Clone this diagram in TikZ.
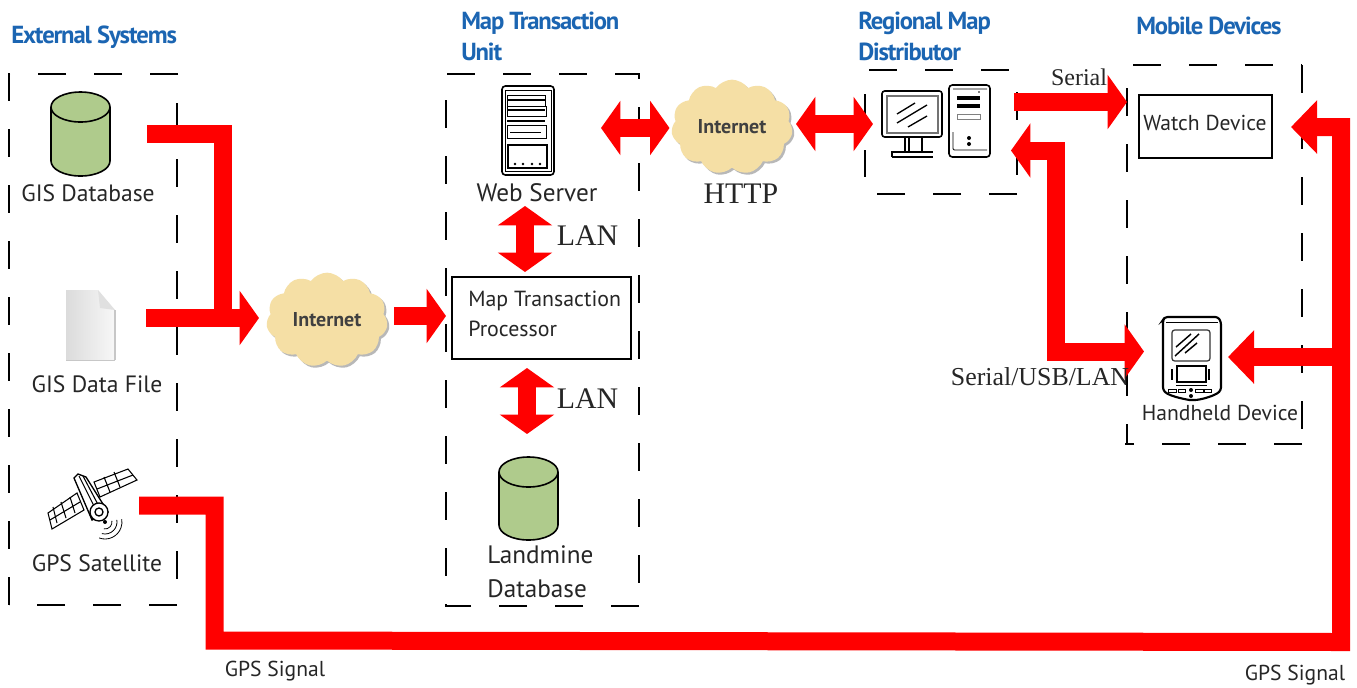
\documentclass[tikz,border=0pt]{standalone}
\usepackage{fontspec}
\setmainfont{PT Sans}
\newfontfamily\tnr{Liberation Serif}
\newfontfamily\headfont[LetterSpace=-4.5,BoldFont={PT Sans Bold}]{PT Sans}
\usetikzlibrary{arrows.meta,shapes.symbols,shadows}
\definecolor{headblue}{HTML}{1B65B2}
\definecolor{dbgreen}{HTML}{AFCB8C}
\definecolor{cloudtan}{HTML}{F5DFA5}
\tikzset{
  dbox/.style={draw=black,line width=1.5pt,dash pattern=on 21pt off 21pt},
  redline/.style={draw=red,line width=13.5pt},
  hd/.tip={Triangle[length=14.5pt,width=40pt]},
  hdl/.tip={Triangle[length=19.5pt,width=39pt]},
  lbl/.style={inner sep=0pt,text=black!85,font=\fontsize{17.7}{25.5}\selectfont,align=center},
  lblb/.style={inner sep=0pt,text=black!85,font=\fontsize{18.9}{25.5}\selectfont,align=left},
  small/.style={inner sep=0pt,text=black!85,font=\fontsize{16.2}{18}\selectfont},
  serif/.style={inner sep=0pt,text=black!85,font=\tnr\fontsize{22.4}{24}\selectfont},
  serifs/.style={inner sep=0pt,text=black!85,font=\tnr\fontsize{18}{20}\selectfont},
  serifm/.style={inner sep=0pt,text=black!85,font=\tnr\fontsize{19.4}{20}\selectfont},
  heading/.style={inner sep=0pt,text=headblue,align=left,font=\headfont\bfseries\fontsize{18.5}{23}\selectfont},
  cloudn/.style={shape=cloud,cloud puffs=11,cloud puff arc=110,aspect=1.3,fill=cloudtan,
    minimum width=91pt,minimum height=71pt,inner sep=0pt,
    text=black!75,font=\bfseries\fontsize{15}{17}\selectfont,
    drop shadow={shadow xshift=1.5pt,shadow yshift=-1.5pt,fill=black!55}},
  procbox/.style={draw=black,line width=1.7pt,inner sep=0pt},
  icon/.style={draw=black,line width=1.2pt},
  thin1/.style={draw=black,line width=.7pt},
}
\newcommand{\cylinder}[3]{% cx, top, bottom
  \draw[icon,fill=dbgreen] (#1-29.5,#2+15) -- (#1-29.5,#3-15)
    arc[x radius=29.5,y radius=15,start angle=180,end angle=0]
    -- (#1+29.5,#2+15) arc[x radius=29.5,y radius=15,start angle=0,end angle=-180] -- cycle;
  \draw[icon] (#1-29.5,#2+15) arc[x radius=29.5,y radius=15,start angle=180,end angle=0];
}
\begin{document}
\begin{tikzpicture}[x=0.75pt,y=-0.75pt]
\useasboundingbox (0,0) rectangle (1357,687);
\fill[white] (0,0) rectangle (1357,687);

% headings
\node[heading,anchor=west] (hExt) at (11,37) {External Systems};
\node[heading,anchor=north west] (hMtu) at (461,12) {Map Transaction\\Unit};
\node[heading,anchor=north west] (hRmd) at (858,12) {Regional Map\\Distributor};
\node[heading,anchor=west] (hMob) at (1136,26) {Mobile Devices};

% dashed groups
\draw[dbox] (178,74)--(9,74) (9,73)--(9,605) (177,103)--(177,605) (177,605)--(9,605);
\draw[dbox] (447,74)--(640,74) (639,74)--(639,79) (639,107)--(639,607) (446,100)--(446,607) (639,606)--(446,606);
\draw[dbox] (869,70)--(1017,70) (1017,92)--(1017,175) (865,94)--(865,177) (1017,194)--(865,194);
\draw[dbox] (1133,65)--(1302,65) (1302,65)--(1302,429) (1127,88)--(1127,443) (1302,444)--(1125,444);

% database icons
\cylinder{80.5}{92}{176}
\cylinder{528.5}{457}{540}
\node[lbl] (gisdb) at (88,193) {GIS Database};
\node[lblb,anchor=west] (landdb) at (487,572) {Landmine\\Database};

% file icon
\shade[left color=black!14,right color=black!3] (66,290) -- (98,290) -- (115,310) -- (115,360) -- (66,360) -- cycle;
\fill[black!12] (98,290) -- (115,310) -- (100,308) -- cycle;
\draw[black!22,line width=.8pt] (66,360.5) -- (115,360.5) (115,310) -- (115,360);
\node[lbl] (gisfile) at (97,384) {GIS Data File};

% satellite icon
\begin{scope}[line width=.8pt]
  \draw[fill=white] (48,513) -- (52,529) -- (84,510) -- (77,493) -- cycle;
  \draw (53,507) -- (57,523) (61,502) -- (66,518) (70,497) -- (75,513) (50,520) -- (80,502);
  \draw[fill=white] (94,482) -- (100,497) -- (137,480) -- (128,469) -- cycle;
  \draw (104,477) -- (110,492) (114,472) -- (120,487) (97,489) -- (133,475);
  \draw[line width=1pt,fill=white] (74,478) -- (78,474) -- (86,477) -- (108,512) -- (92,520) -- cycle;
  \draw (79,476) -- (99,516) (83,476) -- (103,514);
  \draw[line width=1pt,fill=white] (99,512) circle (9);
  \draw[line width=1pt] (99,512) circle (4);
  \fill (105,522) circle (2);
  \draw[line width=.6pt] (105,522) ++(100:7) arc[radius=7,start angle=100,end angle=-10];
  \draw[line width=.6pt] (105,522) ++(105:12) arc[radius=12,start angle=105,end angle=-10];
  \draw[line width=.6pt] (105,522) ++(110:17) arc[radius=17,start angle=110,end angle=-10];
\end{scope}
\node[lbl] (gpssat) at (97,563) {GPS Satellite};

% web server icon
\draw[icon,rounded corners=2.5pt] (502,86) rectangle (554,175);
\draw[thin1] (505,90) -- (551,90) -- (551,171) -- (505,171) -- cycle;
\draw[line width=1.6pt] (507,100) -- (545,100) (507,110) -- (545,110) (507,121) -- (545,121);
\draw[thin1] (507,95) rectangle (545,106) (507,106) rectangle (546,116) (507,125) rectangle (546,138) (510,132) -- (541,132);
\draw[icon] (508,145) rectangle (547,168);
\foreach \dotx in {515,523,532,540} \fill (\dotx,164) circle (1.4);
\node[lblb] (websrv) at (537,193) {Web Server};

% desktop icon
\draw[icon,rounded corners=2pt] (882,91) rectangle (942,137);
\draw[draw=black!55,line width=1pt] (887,96) rectangle (938,133);
\draw[line width=1pt] (897,114) -- (915,103) (897,123) -- (927,105) (908,127) -- (927,116);
\draw[line width=1pt] (905,137) -- (905,152) (909,137) -- (909,152) (922,137) -- (922,152) (892,157) -- (892,152) -- (933,152) (892,157) -- (933,157);
\draw[icon,rounded corners=2.5pt] (949,85) rectangle (990,157);
\draw[thin1,rounded corners=1pt] (953,89) -- (987,89) (953,132) -- (953,150) -- (987,150);
\draw[line width=2.4pt] (957,98) -- (980,98) (957,106) -- (980,106);
\draw[draw=black!50,line width=.7pt] (957,114) rectangle (980,119);
\fill (969,138) circle (2) (969,144) circle (2) (979,92) circle (.9);
\coordinate (desktop) at (936,121);

% handheld icon
\draw[icon,line width=1.6pt,rounded corners=2pt] (1163,320) -- (1163,390) .. controls (1170,397) and (1190,400) .. (1192,400) .. controls (1200,400) and (1215,396) .. (1221,390) -- (1221,322) -- (1218,317) -- (1165,317) -- cycle;
\draw[thin1] (1166,322) -- (1218,322);
\draw[draw=black!80,line width=.9pt,rounded corners=2pt] (1172,330) rectangle (1210,361);
\draw[line width=1.1pt] (1176,347) -- (1191,334) (1175,356) -- (1199,334) (1185,353) -- (1197,343);
\draw[line width=.9pt] (1177,366) rectangle (1206,382);
\draw[line width=2pt] (1172,369) -- (1172,380) (1209,369) -- (1209,380);
\draw[line width=.5pt] (1168,389) rectangle (1176,392) (1178,389) rectangle (1185,392) (1195,389) rectangle (1203,392) (1204,389) rectangle (1211,392) (1176,385) -- (1207,385);
\fill (1191,390) circle (2) (1191,396) circle (2);
\node[small] (handheld) at (1220,413) {Handheld Device};

% boxes
\node[procbox,minimum width=134.25pt,minimum height=61.5pt] (mtp) at (541.5,318) {};
\node[inner sep=0pt,text=black!85,anchor=west,font=\fontsize{16.4}{22}\selectfont,align=left] (mtptext) at (468,314) {Map Transaction\\Processor};
\node[procbox,minimum width=99.75pt,minimum height=47.25pt] (watch) at (1205.5,126.5) {};
\node[small] (watchtext) at (1205,123) {Watch Device};

% clouds
\node[cloudn] (net1) at (327,320) {Internet};
\node[cloudn] (net2) at (732,127) {Internet};

% free ends of connectors
\coordinate (gisdbOut) at (147,133.5);
\coordinate (gisfileOut) at (146,318);
\coordinate (net1In) at (259,318);
\coordinate (net1Out) at (394,316);
\coordinate (mtpIn) at (446,316);
\coordinate (websrvE) at (601,128);
\coordinate (net2W) at (669.5,128);
\coordinate (net2E) at (796,124);
\coordinate (desktopW) at (873,124);
\coordinate (websrvS) at (525,206);
\coordinate (mtpN) at (525,272);
\coordinate (mtpS) at (527,368);
\coordinate (landN) at (527,434);
\coordinate (desktopOut) at (1014,102);
\coordinate (mobileW) at (1127,102);
\coordinate (desktopIn) at (1011,150.5);
\coordinate (handW) at (1144,351.5);
\coordinate (gpsOut) at (139,505.5);
\coordinate (watchE) at (1291,127);
\coordinate (handE) at (1228,357);
\coordinate (gpsBranch) at (1341,357);

% connectors
\draw[redline] (gisdbOut) -| (222.5,318);
\draw[redline,-{hd}] (gisfileOut) -- (net1In);
\draw[redline,-{hd}] (net1Out) -- (mtpIn);
\draw[redline,{hd}-{hd}] (websrvE) -- (net2W);
\draw[redline,{hd}-{hd}] (net2E) -- (desktopW);
\draw[redline,{hd}-{hd}] (websrvS) -- (mtpN);
\draw[redline,{hd}-{hd}] (mtpS) -- (landN);
\draw[redline,-{hd}] (desktopOut) -- (mobileW);
\draw[redline,{hd}-{hd}] (desktopIn) -| (1056,351.5) -- (handW);
\draw[redline,-{hdl}] (gpsOut) -| (214.5,640.5) -- (1341,642) |- (watchE);
\draw[redline,-{hdl}] (gpsBranch) -- (handE);

% connector labels
\node[serif] (lan1) at (587.5,236) {LAN};
\node[serif] (lan2) at (587.5,399) {LAN};
\node[serif] (http) at (741,194) {HTTP};
\node[serifs] (serial) at (1079,77) {Serial};
\node[serifm] (susb) at (1040,377) {Serial/USB/LAN};
\node[small] (gps1) at (275,671) {GPS Signal};
\node[small] (gps2) at (1295,675) {GPS Signal};
\end{tikzpicture}
\end{document}
